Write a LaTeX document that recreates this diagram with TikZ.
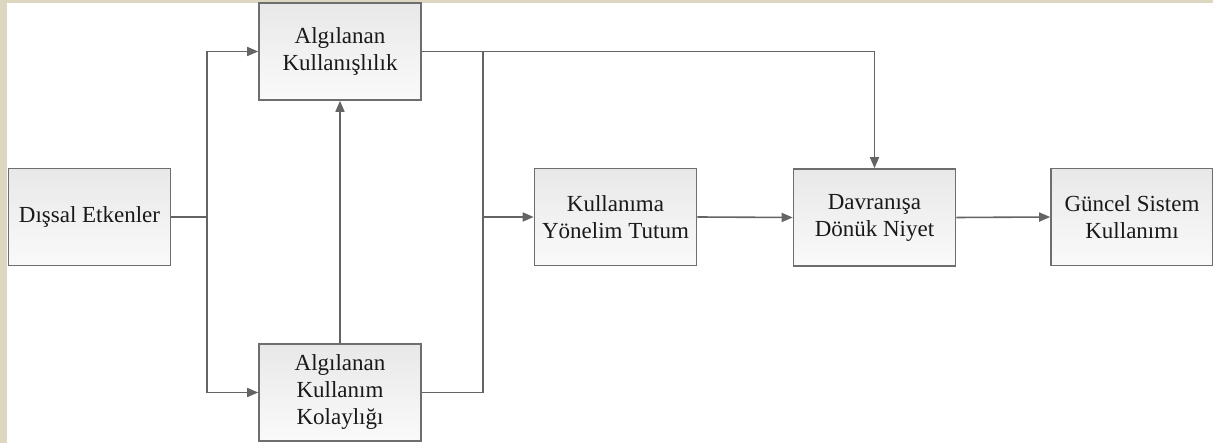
\documentclass[tikz,border=0pt]{standalone}
\usepackage{fontspec}
\setmainfont{Liberation Serif}
\newfontfamily\diagfont{Liberation Serif}
\usetikzlibrary{arrows.meta}
\definecolor{beige}{RGB}{221,215,193}
\definecolor{edge}{RGB}{110,110,110}
\definecolor{wire}{RGB}{100,100,100}
\tikzset{
  box/.style={draw=edge, line width=1.6pt, top color=black!9, bottom color=black!2,
    minimum width=162pt, minimum height=97pt, inner sep=2pt, align=center,
    font=\diagfont\fontsize{23}{27}\selectfont, text=black!90},
  wireline/.style={draw=wire, line width=1.6pt},
  arr/.style={wireline, -{Triangle[length=11pt,width=9pt]}}
}
\begin{document}
\begin{tikzpicture}[x=1pt,y=-1pt]
\fill[beige] (0,0) rectangle (1213,443);
\fill[white] (7,3) rectangle (1213,443);
\useasboundingbox (0,0) rectangle (1213,443);

\node[box] (de) at (89.5,217) {Dışsal Etkenler};
\node[box] (ak) at (340,51.5) {Algılanan\\Kullanışlılık};
\node[box] (akk) at (340,392.5) {Algılanan\\Kullanım\\Kolaylığı};
\node[box] (kyt) at (615.5,217) {Kullanıma\\Yönelim Tutum};
\node[box] (dn) at (874.5,217.5) {Davranışa\\Dönük Niyet};
\node[box] (gsk) at (1132,217) {Güncel Sistem\\Kullanımı};

\coordinate (j1) at (207,217);
\coordinate (j2) at (483,217);
\coordinate (m) at (483,51.5);

\draw[wireline] (de.east) -- (j1);
\draw[arr] (j1) |- (ak.west);
\draw[arr] (j1) |- (akk.west);
\draw[arr] (akk.north) -- (ak.south);
\draw[arr] (ak.east) -| (dn.north);
\draw[wireline] (akk.east) -| (m);
\draw[arr] (j2) -- (kyt.west);
\draw[arr] (kyt.east) -- (dn.west);
\draw[arr] (dn.east) -- (gsk.west);
\end{tikzpicture}
\end{document}
